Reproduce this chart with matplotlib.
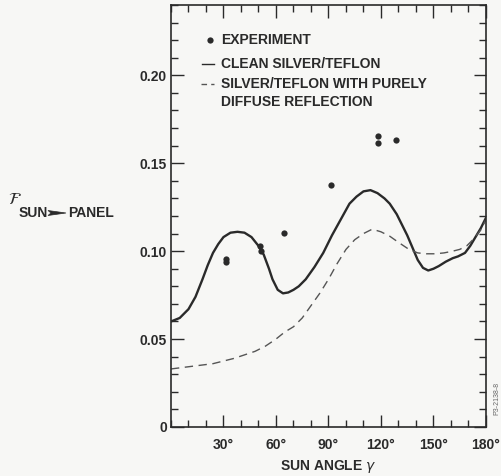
import matplotlib
matplotlib.use('Agg')
import matplotlib.pyplot as plt
from matplotlib.ticker import MultipleLocator
from matplotlib.patches import Polygon

# Sun angle (deg) and view factor
clean_x = [0, 5, 10, 14, 18, 21, 24, 27, 30, 34, 38, 42, 46, 50, 53, 56, 58, 61, 64, 67,
           70, 73, 77, 82, 87, 92, 97, 102, 106, 110, 114, 118, 122, 125, 129, 132, 135,
           138, 141, 144, 147, 150, 153, 157, 161, 164, 168, 171, 174, 177, 180]
clean_y = [0.060, 0.062, 0.067, 0.074, 0.084, 0.092, 0.099, 0.104, 0.108, 0.1105, 0.111,
           0.1105, 0.108, 0.103, 0.098, 0.090, 0.084, 0.078, 0.076, 0.0765, 0.078, 0.080,
           0.084, 0.091, 0.099, 0.109, 0.118, 0.127, 0.131, 0.134, 0.1347, 0.133, 0.130,
           0.127, 0.121, 0.115, 0.109, 0.102, 0.095, 0.0905, 0.089, 0.090, 0.0915, 0.094,
           0.096, 0.097, 0.099, 0.103, 0.108, 0.113, 0.119]

diffuse_x = [0, 8, 16, 24, 30, 36, 42, 48, 54, 60, 65, 70, 75, 80, 85, 90, 95, 100, 105,
             110, 115, 120, 125, 130, 136, 141, 146, 151, 156, 161, 165, 169, 173, 177, 180]
diffuse_y = [0.033, 0.034, 0.035, 0.036, 0.0375, 0.039, 0.041, 0.043, 0.046, 0.050, 0.054,
             0.057, 0.062, 0.069, 0.076, 0.084, 0.093, 0.101, 0.1065, 0.110, 0.1125, 0.111,
             0.1085, 0.105, 0.101, 0.099, 0.0985, 0.0985, 0.099, 0.1, 0.101, 0.103, 0.107,
             0.112, 0.118]

exp_x = [31.7, 31.7, 50.8, 51.5, 64.6, 91.2, 118.3, 118.3, 128.4]
exp_y = [0.0956, 0.0938, 0.1027, 0.1000, 0.1104, 0.1379, 0.1654, 0.1614, 0.1635]

xtick_vals = [30, 60, 90, 120, 150, 180]
xtick_labels = ['30°', '60°', '90°', '120°', '150°', '180°']
ytick_vals = [0, 0.05, 0.10, 0.15, 0.20]
ytick_labels = ['0', '0.05', '0.10', '0.15', '0.20']

plt.rcParams['font.family'] = ['Liberation Sans', 'DejaVu Sans']
ink = '#2a2a2a'
fs = 10

fig = plt.figure(figsize=(5.02, 4.76), dpi=100)
fig.patch.set_facecolor('#f7f7f5')
ax = fig.add_axes([0.3406, 0.103, 0.6275, 0.8865])
ax.set_facecolor('#f7f7f5')

ax.plot(clean_x, clean_y, color=ink, lw=1.7, solid_capstyle='round')
ax.plot(diffuse_x, diffuse_y, color='#555555', lw=1.0, linestyle=(0, (6, 4)))
ax.plot(exp_x, exp_y, 'o', color=ink, ms=4.5, mec='none')

ax.set_xlim(0, 180)
ax.set_ylim(0, 0.24)
ax.set_xticks(xtick_vals)
ax.set_xticklabels(xtick_labels)
ax.set_yticks(ytick_vals)
ax.set_yticklabels(ytick_labels)
ax.xaxis.set_minor_locator(MultipleLocator(10))
ax.yaxis.set_minor_locator(MultipleLocator(0.01))
ax.tick_params(which='both', direction='in', top=True, right=True, color=ink, width=1.0)
ax.tick_params(which='major', length=9, labelsize=fs, labelcolor=ink)
ax.tick_params(which='minor', length=5)
ax.tick_params(axis='y', which='major', pad=3)
ax.tick_params(axis='x', which='major', pad=8)
for lab in ax.get_xticklabels() + ax.get_yticklabels():
    lab.set_fontweight('bold')
for s in ax.spines.values():
    s.set_color(ink)
    s.set_linewidth(1.2)

ax.set_xlabel('SUN ANGLE $\\gamma$', fontsize=fs, fontweight='bold', color=ink, labelpad=4)

# legend drawn by hand to match the layout
tr = ax.transAxes
ax.plot([0.125], [0.918], 'o', color=ink, ms=4.5, mec='none', transform=tr)
ax.plot([0.10, 0.138], [0.861, 0.861], color=ink, lw=1.0, transform=tr)
ax.plot([0.095, 0.138], [0.812, 0.812], color='#555555', lw=1.0, linestyle=(0, (4, 3)), transform=tr)
ax.text(0.158, 0.918, 'EXPERIMENT', transform=tr, fontsize=fs, fontweight='bold', color=ink, va='center')
ax.text(0.158, 0.861, 'CLEAN SILVER/TEFLON', transform=tr, fontsize=fs, fontweight='bold', color=ink, va='center')
ax.text(0.158, 0.812, 'SILVER/TEFLON WITH PURELY', transform=tr, fontsize=fs,
        fontweight='bold', color=ink, va='center')
ax.text(0.158, 0.769, 'DIFFUSE REFLECTION', transform=tr, fontsize=fs,
        fontweight='bold', color=ink, va='center')

# y-axis label
fig.text(8 / 502, 1 - 199 / 476, '$\\mathcal{F}$', fontsize=12, color=ink, va='center')
fig.text(19 / 502, 1 - 213 / 476, 'SUN', fontsize=fs, fontweight='bold', color=ink, va='center')
arrow_px = [(48, 210.5), (66, 213), (48, 215.5), (51, 213)]
fig.patches.append(Polygon([(px / 502, 1 - py / 476) for px, py in arrow_px], closed=True,
                           transform=fig.transFigure, facecolor=ink, edgecolor=ink, lw=0.5))
fig.text(68 / 502, 1 - 213 / 476, 'PANEL', fontsize=fs, fontweight='bold', color=ink, va='center')

fig.text(497 / 502, 1 - 398 / 476, 'P3-2138-8', fontsize=5, color='#666666', rotation=90,
         ha='center', va='center')

fig.savefig('out.png', dpi=100, facecolor=fig.get_facecolor())
